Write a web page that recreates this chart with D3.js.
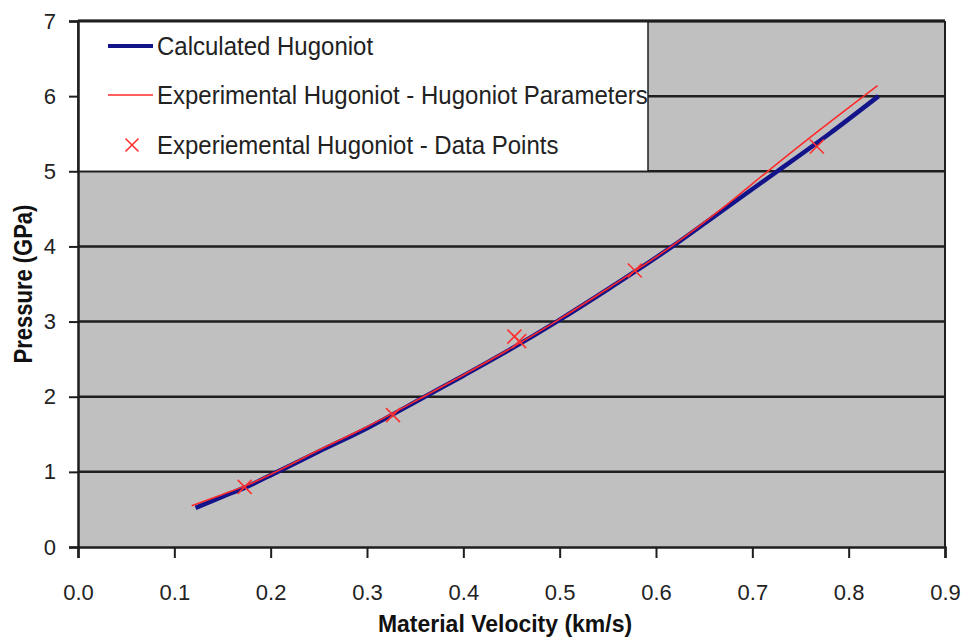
<!doctype html>
<html>
<head>
<meta charset="utf-8">
<script src="https://cdnjs.cloudflare.com/ajax/libs/d3/7.8.5/d3.min.js"></script>
<style>
  html, body { margin: 0; padding: 0; background: #fff; }
  svg { display: block; font-family: "Liberation Sans", Arial, sans-serif; }
</style>
</head>
<body>
<svg id="chart" width="963" height="638"></svg>
<script>
// tick values
var xTicks = [0, 0.1, 0.2, 0.3, 0.4, 0.5, 0.6, 0.7, 0.8, 0.9]
var yTicks = [0, 1, 2, 3, 4, 5, 6, 7]

// calculated hugoniot
var calcVel = [0.122, 0.15, 0.175, 0.207, 0.25, 0.30, 0.36, 0.40, 0.45, 0.497, 0.55, 0.617, 0.667, 0.726, 0.78, 0.831]
var calcP   = [0.52, 0.67, 0.80, 1.00, 1.27, 1.58, 2.00, 2.28, 2.64, 3.00, 3.43, 4.00, 4.46, 5.00, 5.50, 6.00]

// experimental hugoniot from parameters
var expVel = [0.118, 0.15, 0.175, 0.207, 0.25, 0.30, 0.36, 0.40, 0.45, 0.497, 0.55, 0.617, 0.667, 0.716, 0.77, 0.83]
var expP   = [0.55, 0.70, 0.82, 1.01, 1.29, 1.60, 2.01, 2.29, 2.65, 3.01, 3.44, 4.01, 4.49, 5.00, 5.55, 6.14]

// experimental data points
var ptVel = [0.173, 0.327, 0.453, 0.458, 0.578, 0.767]
var ptP   = [0.80, 1.755, 2.80, 2.74, 3.68, 5.33]

var legendNames = ["Calculated Hugoniot", "Experimental Hugoniot - Hugoniot Parameters", "Experiemental Hugoniot - Data Points"]

var svg = d3.select("#chart")
var x = d3.scaleLinear().domain([0, 0.9]).range([78, 945])
var y = d3.scaleLinear().domain([0, 7]).range([547, 21])

// plot background
svg.append("rect")
  .attr("x", x(0)).attr("y", y(7))
  .attr("width", x(0.9) - x(0)).attr("height", y(0) - y(7))
  .style("fill", "#c0c0c0")

// gridlines
svg.append("g").selectAll("line")
  .data(yTicks.slice(1))
  .enter().append("line")
  .attr("x1", x(0)).attr("x2", x(0.9))
  .attr("y1", d => y(d)).attr("y2", d => y(d))
  .style("stroke", "#1e1e1e").style("stroke-width", 2.5)

// legend box (sits over the upper gridlines)
svg.append("rect")
  .attr("x", x(0)).attr("y", y(7))
  .attr("width", 648 - x(0)).attr("height", y(5) - y(7))
  .style("fill", "#fff").style("stroke", "#1e1e1e").style("stroke-width", 1.5)

// right + top border
svg.append("line")
  .attr("x1", x(0.9)).attr("x2", x(0.9)).attr("y1", y(7)).attr("y2", y(0))
  .style("stroke", "#1e1e1e").style("stroke-width", 2)
svg.append("line")
  .attr("x1", x(0)).attr("x2", x(0.9)).attr("y1", y(7)).attr("y2", y(7))
  .style("stroke", "#1e1e1e").style("stroke-width", 3)

// axes
var xAxis = svg.append("g")
  .attr("transform", "translate(0," + y(0) + ")")
  .call(d3.axisBottom(x).tickValues(xTicks).tickSize(11).tickPadding(26).tickFormat(d3.format(".1f")))
var yAxis = svg.append("g")
  .attr("transform", "translate(" + x(0) + ",0)")
  .call(d3.axisLeft(y).tickValues(yTicks).tickSize(9).tickPadding(13).tickFormat(d3.format("d")))

;[xAxis, yAxis].forEach(a => {
  a.select(".domain").style("stroke", "#1e1e1e").style("stroke-width", 2.5)
  a.selectAll(".tick line").style("stroke", "#1e1e1e").style("stroke-width", 2)
  a.selectAll("text").style("font-family", "'Liberation Sans', Arial, sans-serif")
    .style("font-size", "22px").style("fill", "#222")
})

// series
var line = d3.line().x(d => x(d[0])).y(d => y(d[1])).curve(d3.curveMonotoneX)
var calcData = calcVel.map((v, i) => [v, calcP[i]])
var expData = expVel.map((v, i) => [v, expP[i]])

svg.append("path").datum(calcData)
  .attr("d", line)
  .style("fill", "none").style("stroke", "#14148a").style("stroke-width", 4.5)
  .style("stroke-linejoin", "round")

svg.append("path").datum(expData)
  .attr("d", line)
  .style("fill", "none").style("stroke", "#ff2a2a").style("stroke-width", 1.6)

function cross(g, cx, cy, r) {
  g.append("path")
    .attr("d", "M" + (cx - r) + "," + (cy - r) + "L" + (cx + r) + "," + (cy + r) +
               "M" + (cx - r) + "," + (cy + r) + "L" + (cx + r) + "," + (cy - r))
    .style("stroke", "#ff3030").style("stroke-width", 1.6).style("fill", "none")
}
var pts = svg.append("g")
ptVel.forEach((v, i) => cross(pts, x(v), y(ptP[i]), 7))

// legend
var lg = svg.append("g")
var rowY = [46, 95, 145]
lg.append("line").attr("x1", 108).attr("x2", 153).attr("y1", rowY[0]).attr("y2", rowY[0])
  .style("stroke", "#14148a").style("stroke-width", 4)
lg.append("line").attr("x1", 108).attr("x2", 153).attr("y1", rowY[1]).attr("y2", rowY[1])
  .style("stroke", "#ff2a2a").style("stroke-width", 1.6)
cross(lg, 132, rowY[2], 6.5)

lg.selectAll("text").data(legendNames).enter().append("text")
  .attr("transform", (d, i) => "translate(157," + (rowY[i] + 9) + ") scale(1,1.08)")
  .style("font-size", "24px").style("fill", "#222")
  .text(d => d)

// axis titles
svg.append("text")
  .attr("transform", "translate(505,632) scale(1,1.08)")
  .attr("text-anchor", "middle")
  .style("font-size", "23px").style("font-weight", "bold").style("fill", "#111")
  .text("Material Velocity (km/s)")

svg.append("text")
  .attr("transform", "translate(32,284) rotate(-90) scale(1,1.15)")
  .attr("text-anchor", "middle")
  .style("font-size", "22px").style("font-weight", "bold").style("fill", "#111")
  .text("Pressure (GPa)")
</script>
</body>
</html>
